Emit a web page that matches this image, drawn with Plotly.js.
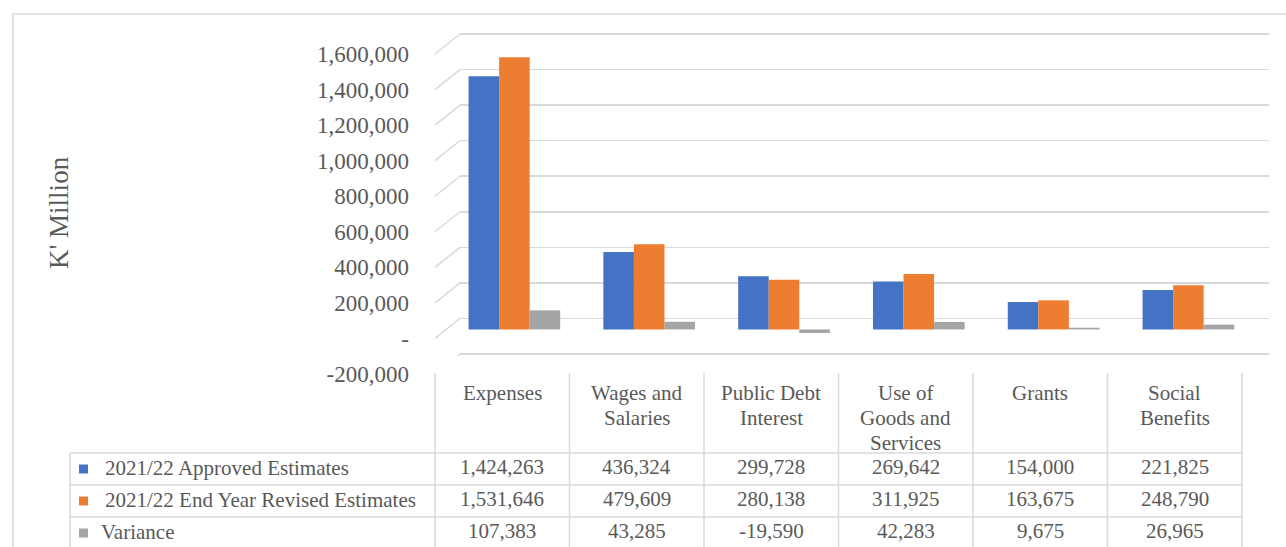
<!DOCTYPE html>
<html>
<head>
<meta charset="utf-8">
<script src="https://cdn.plot.ly/plotly-3.0.1.min.js"></script>
<style>html,body{margin:0;padding:0;background:#fff;}#chart{width:1286px;height:547px;}</style>
</head>
<body>
<div id="chart"></div>
<script>
// ---- data ----
const categories = ['Expenses', 'Wages and Salaries', 'Public Debt Interest', 'Use of Goods and Services', 'Grants', 'Social Benefits'];
const categoryLabels = ['Expenses', 'Wages and<br>Salaries', 'Public Debt<br>Interest', 'Use of<br>Goods and<br>Services', 'Grants', 'Social<br>Benefits'];
const approved = [1424263, 436324, 299728, 269642, 154000, 221825];
const revised = [1531646, 479609, 280138, 311925, 163675, 248790];
const variance = [107383, 43285, -19590, 42283, 9675, 26965];
const seriesNames = ['2021/22 Approved Estimates', '2021/22 End Year Revised Estimates', 'Variance'];
const yTickVals = [-200000, 0, 200000, 400000, 600000, 800000, 1000000, 1200000, 1400000, 1600000];
const yTickText = ['-200,000', '-', '200,000', '400,000', '600,000', '800,000', '1,000,000', '1,200,000', '1,400,000', '1,600,000'];
const yTitle = "K' Million";

// ---- styling ----
const colors = ['#4472C4', '#ED7D31', '#A5A5A5'];
const font = 'Liberation Serif, Times New Roman, serif';
const textColor = '#595959';
const lineColor = '#D9D9D9';

const W = 1286, H = 547;
const L = 460, R = 1269, T = 32, B = 356;          // plot area in px
const pw = R - L, ph = B - T;
const px2x = p => (p - L) / pw;
const px2y = p => (B - p) / ph;
const pad = 2 * 1800000 / 320;                      // keep edge gridlines inside the plot area
const yRange = [-200000 - pad, 1600000 + pad];
const perPx = (yRange[1] - yRange[0]) / ph;
const barShift = 11 * perPx;                        // bars sit a little lower than back-wall grid
const depth = 20;                                   // px offset of 3D side wall

const catIdx = categories.map((_, i) => i);
const seriesVals = [approved, revised, variance];

const traces = seriesVals.map((vals, k) => ({
  type: 'bar',
  name: seriesNames[k],
  x: catIdx,
  y: vals,
  hovertext: categories,
  marker: { color: colors[k], line: { width: 0 } },
  xaxis: 'x',
  yaxis: 'y2',
  showlegend: false
}));
traces.push({ type: 'scatter', x: [0], y: [0], mode: 'none', xaxis: 'x', yaxis: 'y', showlegend: false, hoverinfo: 'skip' });

const shapes = [];
const annotations = [];

// outer border
shapes.push({ type: 'rect', xref: 'paper', yref: 'paper', x0: px2x(13), x1: px2x(1300), y0: px2y(14), y1: px2y(600), line: { color: lineColor, width: 1.5 } });

// left side-wall segments of gridlines
yTickVals.forEach(v => {
  shapes.push({ type: 'line', xref: 'paper', yref: 'y', x0: px2x(435), x1: 0, y0: v - depth * perPx, y1: v, line: { color: lineColor, width: 1.5 } });
});

// table geometry
const colW = 134.5, tableX0 = 435, legendX0 = 70;
const headTop = 373, rowTops = [453, 485, 517], rowH = 32;
const nCols = categories.length;
for (let i = 0; i <= nCols; i++) {
  const x = tableX0 + colW * i;
  shapes.push({ type: 'line', xref: 'paper', yref: 'paper', x0: px2x(x), x1: px2x(x), y0: px2y(headTop), y1: px2y(560), line: { color: lineColor, width: 1.5 } });
}
shapes.push({ type: 'line', xref: 'paper', yref: 'paper', x0: px2x(legendX0), x1: px2x(legendX0), y0: px2y(rowTops[0]), y1: px2y(560), line: { color: lineColor, width: 1.5 } });
rowTops.forEach(t => {
  shapes.push({ type: 'line', xref: 'paper', yref: 'paper', x0: px2x(legendX0), x1: px2x(tableX0 + colW * nCols), y0: px2y(t), y1: px2y(t), line: { color: lineColor, width: 1.5 } });
});

// header labels (one annotation per line for Excel-like line spacing)
categoryLabels.forEach((lab, i) => {
  lab.split('<br>').forEach((line, j) => {
    annotations.push({ xref: 'paper', yref: 'paper', x: px2x(tableX0 + colW * (i + 0.5)), y: px2y(393 + 25 * j), xanchor: 'center', yanchor: 'middle',
      text: line, showarrow: false, font: { family: font, size: 21, color: textColor } });
  });
});

// rows: legend key + values
seriesVals.forEach((vals, k) => {
  const cy = rowTops[k] + rowH / 2;
  shapes.push({ type: 'rect', xref: 'paper', yref: 'paper', x0: px2x(79), x1: px2x(88), y0: px2y(cy - 4.5), y1: px2y(cy + 4.5), fillcolor: colors[k], line: { width: 0 } });
  annotations.push({ xref: 'paper', yref: 'paper', x: px2x(k === 2 ? 99 : 103), y: px2y(cy - 1), xanchor: 'left', yanchor: 'middle',
    text: seriesNames[k], showarrow: false, font: { family: font, size: 21, color: textColor } });
  vals.forEach((v, i) => {
    annotations.push({ xref: 'paper', yref: 'paper', x: px2x(tableX0 + colW * (i + 0.5)), y: px2y(cy - 2), xanchor: 'center', yanchor: 'middle',
      text: v.toLocaleString('en-US'), showarrow: false, font: { family: font, size: 21, color: textColor } });
  });
});

// y title
annotations.push({ xref: 'paper', yref: 'paper', x: px2x(59), y: px2y(213), xanchor: 'center', yanchor: 'middle', textangle: -90,
  text: yTitle, showarrow: false, font: { family: font, size: 27, color: textColor } });

const xRange = [(L - 514.4) / 134.8, (R - 514.4) / 134.8];

const layout = {
  width: W, height: H,
  margin: { l: L, r: W - R, t: T, b: H - B, pad: 0 },
  paper_bgcolor: '#fff', plot_bgcolor: 'rgba(0,0,0,0)',
  barmode: 'group', bargap: 0.32, bargroupgap: 0,
  xaxis: { range: xRange, showgrid: false, zeroline: false, showticklabels: false, ticks: '', showline: false, fixedrange: true },
  yaxis: {
    range: yRange, tickvals: yTickVals, ticktext: yTickText, showgrid: true, gridcolor: lineColor, gridwidth: 1.5,
    zeroline: false, showline: false, ticks: '', ticklabelshift: 20, ticklabelstandoff: 50,
    tickfont: { family: font, size: 23, color: textColor }, fixedrange: true
  },
  yaxis2: { overlaying: 'y', range: [yRange[0] + barShift, yRange[1] + barShift], showgrid: false, zeroline: false,
    showticklabels: false, ticks: '', showline: false, fixedrange: true },
  shapes: shapes,
  annotations: annotations,
  showlegend: false
};

Plotly.newPlot('chart', traces, layout, { displayModeBar: false, staticPlot: true });
</script>
</body>
</html>
